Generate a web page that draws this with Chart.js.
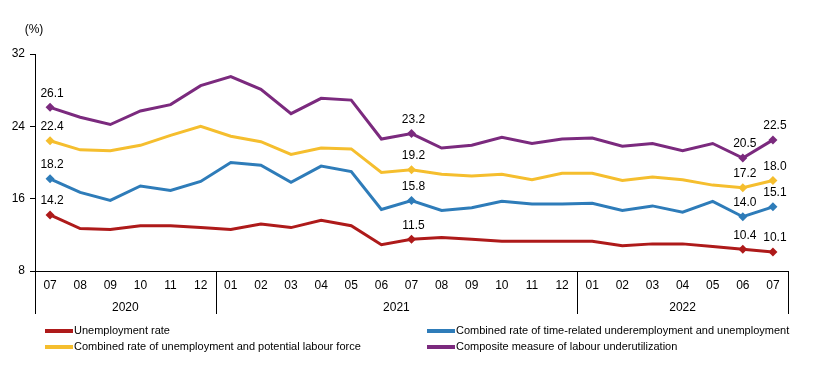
<!DOCTYPE html>
<html>
<head>
<meta charset="utf-8">
<script src="https://cdn.jsdelivr.net/npm/chart.js@4"></script>
<style>
  html, body { margin: 0; padding: 0; background: #fff; }
  #wrap { width: 814px; height: 378px; position: relative; }
</style>
</head>
<body>
<div id="wrap"><canvas id="LABOUR"></canvas></div>
<script>
// months 2020-07 .. 2022-07
var months = ['07','08','09','10','11','12','01','02','03','04','05','06','07','08','09','10','11','12','01','02','03','04','05','06','07'];
var years = [
  { label: '2020', from: 0, to: 5 },
  { label: '2021', from: 6, to: 17 },
  { label: '2022', from: 18, to: 24 }
];
var yTicks = [8, 16, 24, 32];

var unemployment = [14.2,12.7,12.6,13.0,13.0,12.8,12.6,13.2,12.8,13.6,13.0,10.9,11.5,11.7,11.5,11.3,11.3,11.3,11.3,10.8,11.0,11.0,10.7,10.4,10.1];
var timeRelated  = [18.2,16.7,15.8,17.4,16.9,17.9,20.0,19.7,17.8,19.6,19.0,14.8,15.8,14.7,15.0,15.7,15.4,15.4,15.5,14.7,15.2,14.5,15.7,14.0,15.1];
var potential    = [22.4,21.4,21.3,21.9,23.0,24.0,22.9,22.3,20.9,21.6,21.5,18.9,19.2,18.7,18.5,18.7,18.1,18.8,18.8,18.0,18.4,18.1,17.5,17.2,18.0];
var composite    = [26.1,25.0,24.2,25.7,26.4,28.5,29.5,28.1,25.4,27.1,26.9,22.6,23.2,21.6,21.9,22.8,22.1,22.6,22.7,21.8,22.1,21.3,22.1,20.5,22.5];

// points that get a marker and a value label
var labelledPoints = [0, 12, 23, 24];

var seriesNames = [
  'Unemployment rate',
  'Combined rate of time-related underemployment and unemployment',
  'Combined rate of unemployment and potential labour force',
  'Composite measure of labour underutilization'
];
var seriesColors = ['#AE1A1A', '#2E7CB9', '#F5BE2E', '#7B2A7E'];

var fontFam = "'Liberation Sans', Arial, sans-serif";

function makeSet(name, values, color) {
  return {
    label: name,
    data: values,
    borderColor: color,
    backgroundColor: color,
    borderWidth: 3,
    tension: 0,
    pointStyle: 'rectRot',
    pointRadius: function (c) { return labelledPoints.indexOf(c.dataIndex) >= 0 ? 4.5 : 0; },
    pointHoverRadius: 0,
    pointBorderWidth: 0
  };
}

// year groups, separators, value labels, "(%)" and legend
var extrasPlugin = {
  id: 'extras',
  afterDatasetsDraw: function (chart) {
    var ctx = chart.ctx;
    var xs = chart.scales.x;
    var area = chart.chartArea;
    ctx.save();
    ctx.fillStyle = '#000';
    ctx.font = '12px ' + fontFam;
    ctx.textAlign = 'center';
    ctx.textBaseline = 'middle';

    // value labels
    chart.data.datasets.forEach(function (ds, di) {
      var meta = chart.getDatasetMeta(di);
      labelledPoints.forEach(function (i) {
        var pt = meta.data[i];
        ctx.fillText(ds.data[i].toFixed(1), pt.x + 2, pt.y - 14);
      });
    });

    // year separators and labels
    var half = (xs.getPixelForValue(1) - xs.getPixelForValue(0)) / 2;
    ctx.strokeStyle = '#000';
    ctx.lineWidth = 1;
    var sepBottom = area.bottom + 43;
    years.forEach(function (y, k) {
      var left = xs.getPixelForValue(y.from) - half;
      var right = xs.getPixelForValue(y.to) + half;
      ctx.beginPath();
      if (k === 0) {
        ctx.moveTo(Math.round(left) + 0.5, area.bottom);
        ctx.lineTo(Math.round(left) + 0.5, sepBottom);
      }
      ctx.moveTo(Math.round(right) + 0.5, area.bottom);
      ctx.lineTo(Math.round(right) + 0.5, sepBottom);
      ctx.stroke();
      ctx.fillText(y.label, (left + right) / 2, area.bottom + 37);
    });

    // unit label
    ctx.fillText('(%)', 34, 30);

    // legend, two columns
    ctx.font = '11px ' + fontFam;
    ctx.textAlign = 'left';
    var cols = [45, 427];
    var rows = [331, 347];
    var order = [0, 1, 2, 3];
    order.forEach(function (si, n) {
      var x = cols[n % 2];
      var y = rows[Math.floor(n / 2)];
      ctx.strokeStyle = seriesColors[si];
      ctx.lineWidth = 4;
      ctx.beginPath();
      ctx.moveTo(x, y);
      ctx.lineTo(x + 28, y);
      ctx.stroke();
      ctx.fillText(seriesNames[si], x + 29, y);
    });
    ctx.restore();
  }
};

var ctxLabour = document.getElementById('LABOUR').getContext('2d');
var labourChart = new Chart(ctxLabour, {
  type: 'line',
  data: {
    labels: months,
    datasets: [
      makeSet(seriesNames[0], unemployment, seriesColors[0]),
      makeSet(seriesNames[1], timeRelated, seriesColors[1]),
      makeSet(seriesNames[2], potential, seriesColors[2]),
      makeSet(seriesNames[3], composite, seriesColors[3])
    ]
  },
  options: {
    responsive: true,
    maintainAspectRatio: false,
    animation: false,
    layout: { padding: { top: 54, right: 26, bottom: 0, left: 0 } },
    plugins: {
      legend: { display: false },
      tooltip: { enabled: false }
    },
    scales: {
      y: {
        min: 8,
        max: 32,
        afterFit: function (s) { s.width = 35; },
        afterBuildTicks: function (s) { s.ticks = yTicks.map(function (v) { return { value: v }; }); },
        ticks: { color: '#000', padding: 5, font: { size: 12, family: fontFam } },
        grid: { drawOnChartArea: false, drawTicks: true, tickLength: 5, color: '#000' },
        border: { display: true, color: '#000', width: 1 }
      },
      x: {
        offset: true,
        afterFit: function (s) { s.height = 107; },
        ticks: { color: '#000', padding: 7, maxRotation: 0, autoSkip: false, font: { size: 12, family: fontFam } },
        grid: { display: false, drawTicks: false },
        border: { display: true, color: '#000', width: 1 }
      }
    }
  },
  plugins: [extrasPlugin]
});
</script>
</body>
</html>
